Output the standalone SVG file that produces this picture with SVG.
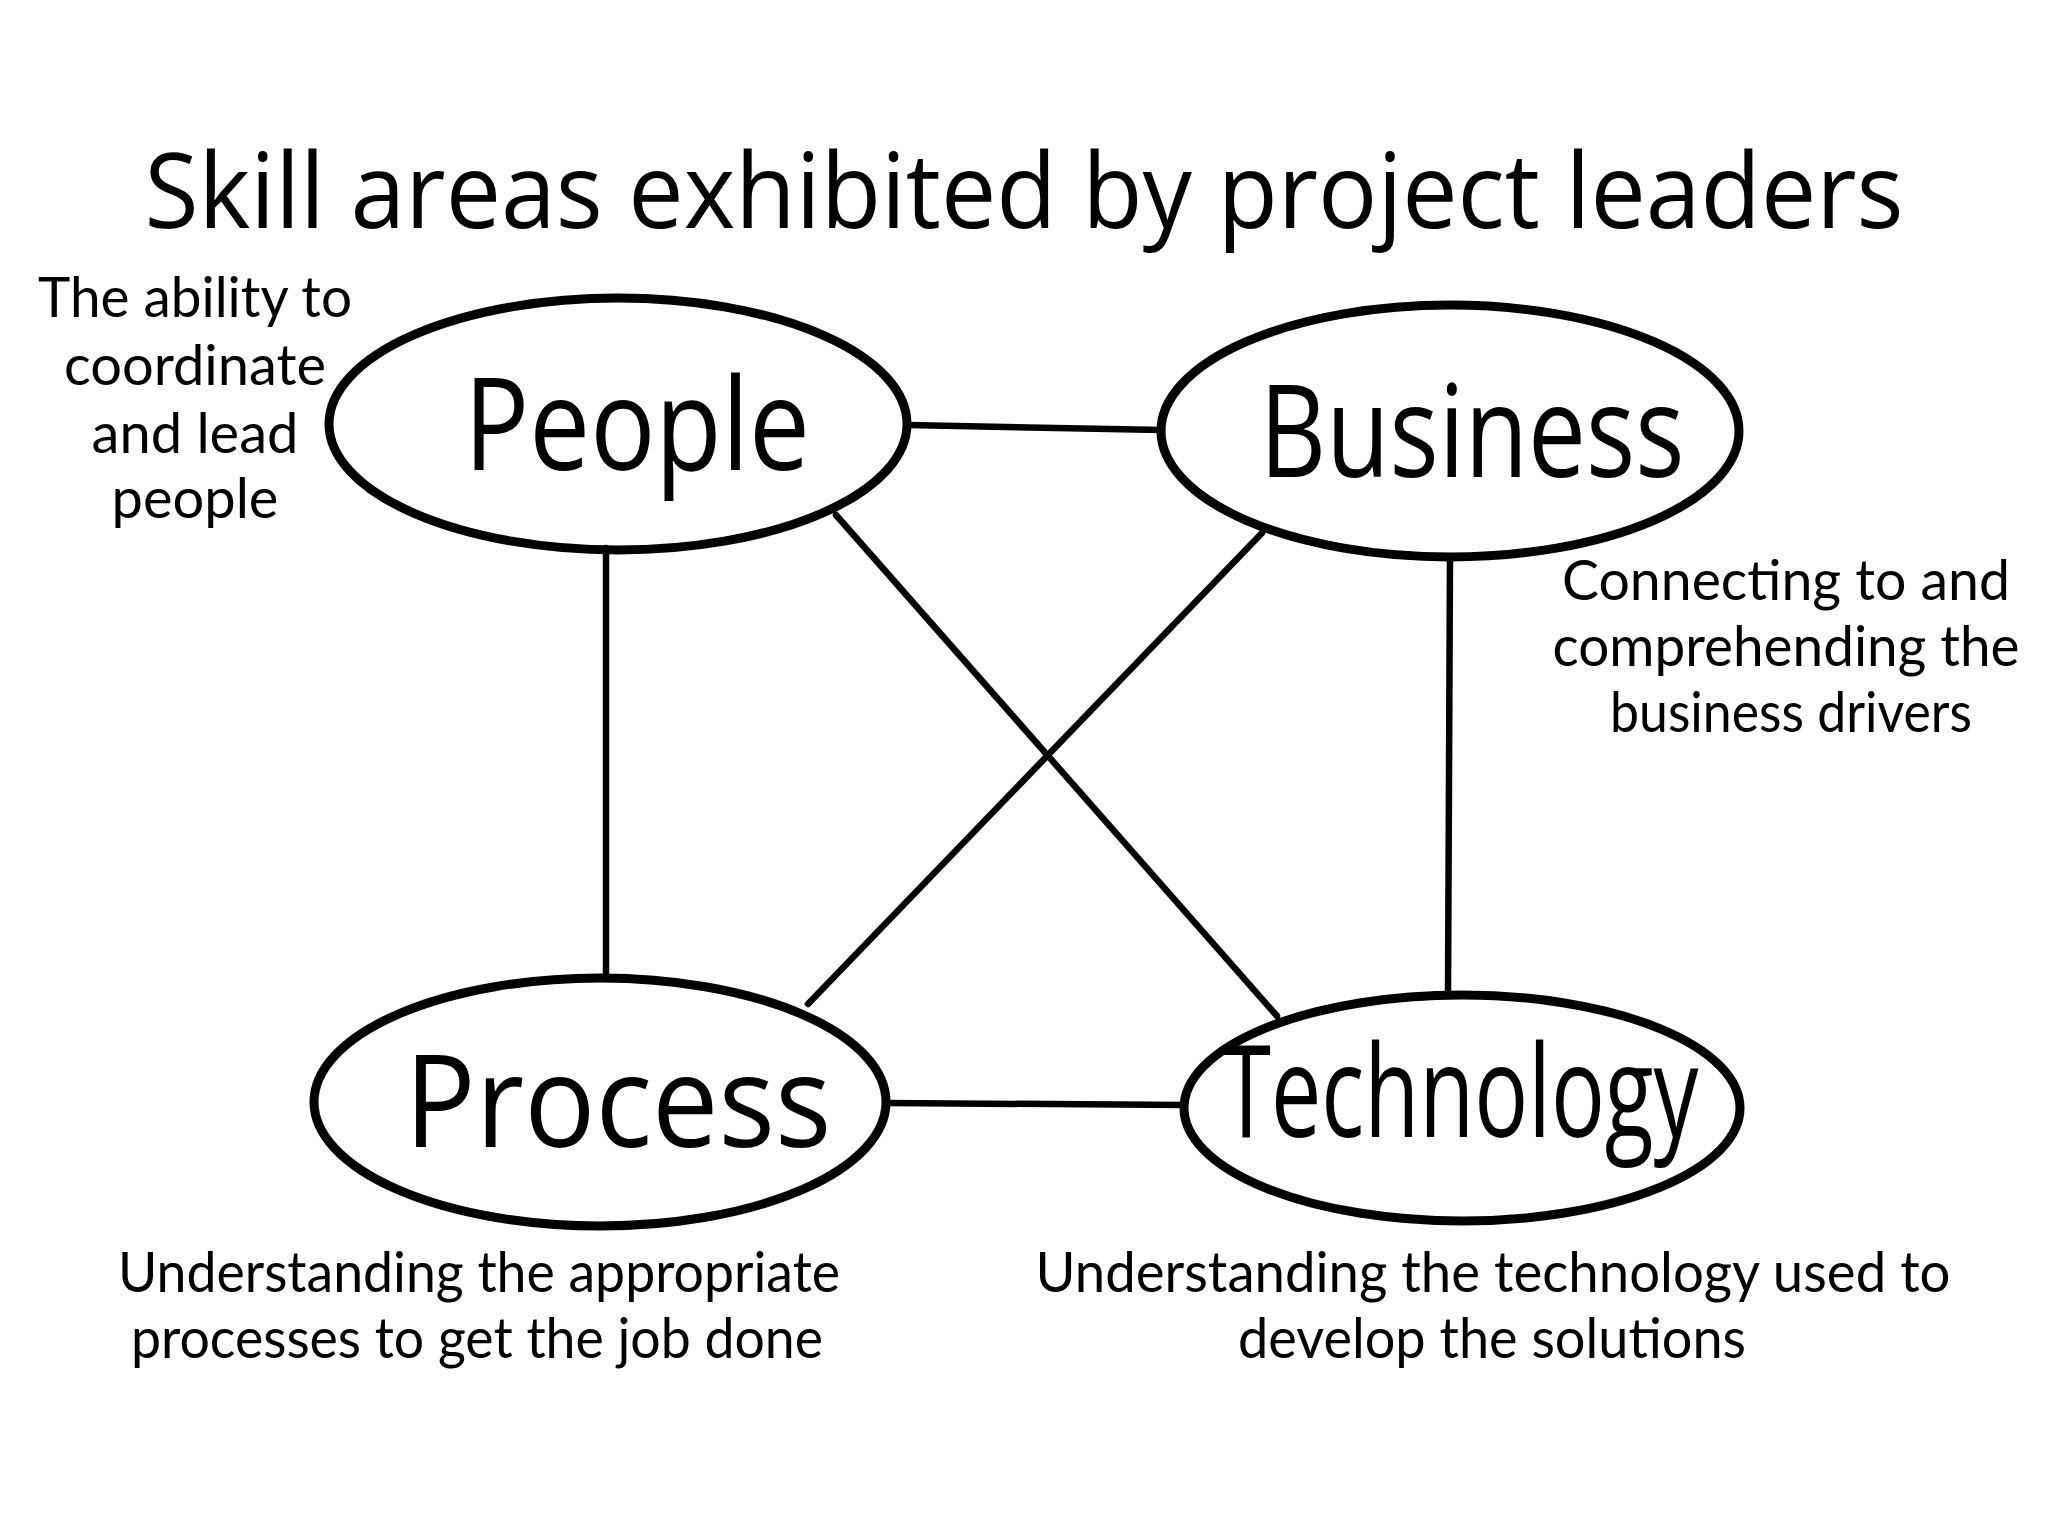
<svg xmlns="http://www.w3.org/2000/svg" width="2048" height="1536" viewBox="0 0 2048 1536">
<style>
.node ellipse{fill:none;stroke:#000;stroke-width:9}
.lbl{font-family:"Open Sans","Liberation Sans",sans-serif;font-size:128px;font-weight:400;fill:#000;text-anchor:middle}
.desc{font-family:"Lato","Open Sans",sans-serif;font-size:56px;fill:#000;text-anchor:middle}
#connectors line{stroke:#000;stroke-width:6.5;stroke-linecap:round}
.title{font-family:"Open Sans","Liberation Sans",sans-serif;font-size:104px;fill:#000;text-anchor:middle}
</style>
<rect width="2048" height="1536" fill="#fff"/>
<text class="title" x="1024" y="228" textLength="1759" lengthAdjust="spacingAndGlyphs">Skill areas exhibited by project leaders</text>
<g id="connectors">
<line x1="908" y1="425" x2="1162" y2="430"/>
<line x1="606" y1="548" x2="606" y2="978"/>
<line x1="1450" y1="556" x2="1448" y2="995"/>
<line x1="836" y1="515" x2="1277" y2="1016"/>
<line x1="1262" y1="533" x2="808" y2="1004"/>
<line x1="886" y1="1103" x2="1185" y2="1105"/>
</g>
<g id="people" class="node">
<ellipse cx="618" cy="424" rx="289" ry="126"/>
<text class="lbl" x="637" y="470" textLength="346" lengthAdjust="spacingAndGlyphs">People</text>
</g>
<g id="business" class="node">
<ellipse cx="1450" cy="431" rx="289" ry="126"/>
<text class="lbl" x="1472" y="477" textLength="425" lengthAdjust="spacingAndGlyphs">Business</text>
</g>
<g id="process" class="node">
<ellipse cx="600" cy="1102" rx="286" ry="124"/>
<text class="lbl" x="618" y="1147" textLength="427" lengthAdjust="spacingAndGlyphs">Process</text>
</g>
<g id="technology" class="node">
<ellipse cx="1462" cy="1108" rx="278" ry="113"/>
<text class="lbl" x="1460" y="1137" textLength="477" lengthAdjust="spacingAndGlyphs">Technology</text>
</g>
<g id="desc-people">
<text class="desc" x="195" y="317" textLength="314" lengthAdjust="spacingAndGlyphs">The ability to</text>
<text class="desc" x="195" y="385">coordinate</text>
<text class="desc" x="195" y="453">and lead</text>
<text class="desc" x="195" y="518">people</text>
</g>
<g id="desc-business">
<text class="desc" x="1786" y="600" textLength="448" lengthAdjust="spacingAndGlyphs">Connecting to and</text>
<text class="desc" x="1786" y="666" textLength="467" lengthAdjust="spacingAndGlyphs">comprehending the</text>
<text class="desc" x="1791" y="732" textLength="362" lengthAdjust="spacingAndGlyphs">business drivers</text>
</g>
<g id="desc-process">
<text class="desc" x="479" y="1292" textLength="722" lengthAdjust="spacingAndGlyphs">Understanding the appropriate</text>
<text class="desc" x="477" y="1358" textLength="692" lengthAdjust="spacingAndGlyphs">processes to get the job done</text>
</g>
<g id="desc-technology">
<text class="desc" x="1493" y="1292" textLength="915" lengthAdjust="spacingAndGlyphs">Understanding the technology used to</text>
<text class="desc" x="1492" y="1358" textLength="508" lengthAdjust="spacingAndGlyphs">develop the solutions</text>
</g>
</svg>
